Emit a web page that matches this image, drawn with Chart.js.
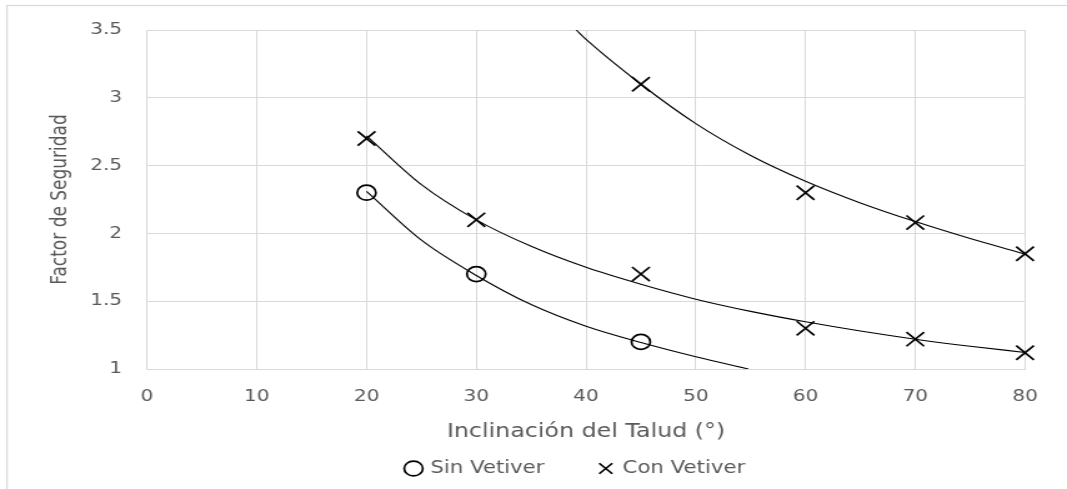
<!DOCTYPE html>
<html>
<head>
<meta charset="utf-8">
<script src="https://cdn.jsdelivr.net/npm/chart.js@4.4.0/dist/chart.umd.min.js"></script>
<style>
html,body{margin:0;padding:0;background:#fff;overflow:hidden;width:1067px;height:489px}
#wrap{position:absolute;left:0;top:0;width:854px;height:489px;transform:scaleX(1.24941);transform-origin:0 0}
canvas{display:block}
</style>
</head>
<body>
<div id="wrap"><canvas id="c" width="854" height="489"></canvas></div>
<script>
// ---- data ----
const xTicks = [0, 10, 20, 30, 40, 50, 60, 70, 80];
const xTickLabels = ['0', '10', '20', '30', '40', '50', '60', '70', '80'];
const yTicks = [1, 1.5, 2, 2.5, 3, 3.5];
const yTickLabels = ['1', '1.5', '2', '2.5', '3', '3.5'];

const sinX = [20, 30, 45];
const sinY = [2.3, 1.7, 1.2];

const conLowX = [20, 30, 45, 60, 70, 80];
const conLowY = [2.7, 2.1, 1.7, 1.3, 1.22, 1.12];
const conHighX = [45, 60, 70, 80];
const conHighY = [3.1, 2.3, 2.08, 1.85];

// trend curves
const sinTrendX = [20, 25, 30, 35, 40, 45, 50, 54.8];
const sinTrendY = [2.31, 1.95, 1.69, 1.475, 1.315, 1.195, 1.09, 1.0];
const conLowTrendX = [20, 25, 30, 35, 40, 45, 50, 55, 60, 65, 70, 75, 80];
const conLowTrendY = [2.72, 2.36, 2.10, 1.905, 1.75, 1.625, 1.515, 1.425, 1.348, 1.28, 1.22, 1.168, 1.122];
const conHighTrendX = [39.1, 40, 45, 50, 55, 60, 65, 70, 75, 80];
const conHighTrendY = [3.5, 3.43, 3.10, 2.81, 2.575, 2.385, 2.225, 2.087, 1.962, 1.848];

const seriesNames = ['Sin Vetiver', 'Con Vetiver'];
const xTitle = 'Inclinación del Talud (°)';
const yTitle = 'Factor de Seguridad';

// ---- helpers ----
const pts = (xs, ys) => xs.map((x, i) => ({x: x, y: ys[i]}));
const TEXT = '#595959';
const GRID = '#d9d9d9';
const FONT = 'DejaVu Sans';

const trend = (xs, ys) => ({
  label: '_trend',
  data: pts(xs, ys),
  showLine: true,
  borderColor: '#000',
  borderWidth: 1.1,
  pointRadius: 0,
  pointHoverRadius: 0,
  cubicInterpolationMode: 'monotone',
  fill: false
});

const framePlugin = {
  id: 'frame',
  beforeDraw(chart) {
    const ctx = chart.ctx;
    ctx.save();
    ctx.fillStyle = '#fff';
    ctx.fillRect(0, 0, chart.width, chart.height);
    ctx.strokeStyle = GRID;
    ctx.lineWidth = 1.2;
    ctx.strokeRect(5.6, 5.5, 3000, 3000);
    ctx.restore();
  },
  afterLayout(chart) {
    if (chart.legend) {
      chart.legend.left += 51;
      chart.legend.right += 51;
    }
  }
};

new Chart(document.getElementById('c'), {
  type: 'scatter',
  data: {
    datasets: [
      {
        label: seriesNames[0],
        data: pts(sinX, sinY),
        pointStyle: 'circle',
        pointRadius: 7.5,
        pointHoverRadius: 7.5,
        borderColor: '#000',
        backgroundColor: 'rgba(0,0,0,0)',
        borderWidth: 1.7,
        clip: false
      },
      {
        label: seriesNames[1],
        data: pts(conLowX, conLowY).concat(pts(conHighX, conHighY)),
        pointStyle: 'crossRot',
        pointRadius: 10,
        pointHoverRadius: 10,
        borderColor: '#000',
        backgroundColor: '#000',
        borderWidth: 1.7,
        clip: false
      },
      trend(sinTrendX, sinTrendY),
      trend(conLowTrendX, conLowTrendY),
      trend(conHighTrendX, conHighTrendY)
    ]
  },
  options: {
    responsive: false,
    animation: false,
    devicePixelRatio: 1,
    layout: {padding: {left: 0, right: 33.6, top: 30, bottom: 2}},
    plugins: {
      tooltip: {enabled: false},
      legend: {
        position: 'bottom',
        labels: {
          usePointStyle: true,
          boxWidth: 10,
          boxHeight: 10.5,
          padding: 44,
          color: TEXT,
          font: {family: FONT, size: 17},
          filter: (item) => item.text !== '_trend'
        }
      }
    },
    scales: {
      x: {
        type: 'linear',
        min: 0, max: 80,
        afterBuildTicks: (s) => { s.ticks = xTicks.map(v => ({value: v})); },
        afterFit: (s) => { s.height = 47; },
        ticks: {
          padding: 18,
          color: TEXT,
          font: {family: FONT, size: 16},
          maxRotation: 0,
          callback: (v) => { const i = xTicks.indexOf(v); return i >= 0 ? xTickLabels[i] : ''; }
        },
        grid: {color: GRID, lineWidth: 1, drawTicks: false},
        border: {color: GRID, width: 1},
        title: {
          display: true,
          text: xTitle,
          color: TEXT,
          font: {family: FONT, size: 19},
          padding: {top: 0, bottom: -27}
        }
      },
      y: {
        type: 'linear',
        min: 1, max: 3.5,
        afterBuildTicks: (s) => { s.ticks = yTicks.map(v => ({value: v})); },
        afterFit: (s) => { s.width = 117.7; },
        ticks: {
          padding: 20,
          color: TEXT,
          font: {family: FONT, size: 16},
          callback: (v) => { const i = yTicks.indexOf(v); return i >= 0 ? yTickLabels[i] : ''; }
        },
        grid: {color: GRID, lineWidth: 1, drawTicks: false},
        border: {color: GRID, width: 1},
        title: {
          display: true,
          text: yTitle,
          color: TEXT,
          font: {family: FONT, size: 17},
          padding: {top: 38.5, bottom: 0}
        }
      }
    }
  },
  plugins: [framePlugin]
});
</script>
</body>
</html>
